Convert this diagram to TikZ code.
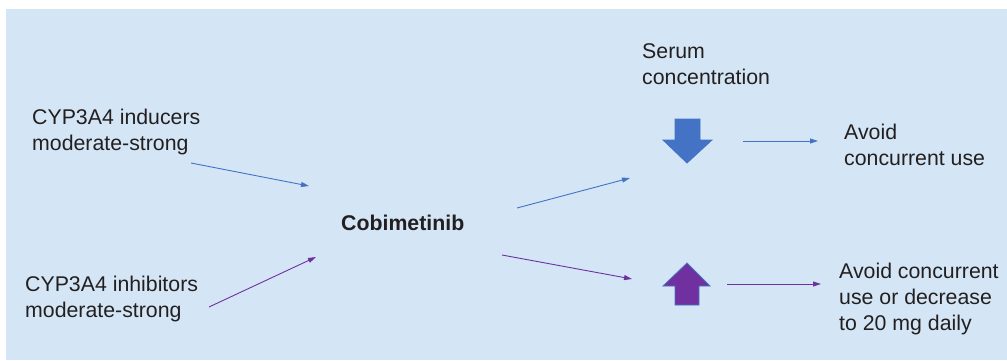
\documentclass[tikz,border=0pt]{standalone}
\usepackage{fontspec}
\setmainfont{Liberation Sans}
\usetikzlibrary{arrows.meta}

\definecolor{bgblue}{RGB}{212,230,245}
\definecolor{arrblue}{RGB}{68,114,196}
\definecolor{arrpurple}{RGB}{112,48,160}
\definecolor{txtgray}{RGB}{35,31,32}

\begin{document}
\begin{tikzpicture}[x=1pt, y=-1pt,
    txt/.style={
        anchor=base west,
        inner sep=0pt,
        align=left,
        text=txtgray,
        font=\fontsize{21.3}{26}\selectfont
    },
    drug/.style={
        txt,
        font=\fontsize{21.3}{26}\selectfont\bfseries
    },
    link/.style={
        line width=0.9pt,
        -{Triangle[length=8pt,width=5pt]}
    },
    bluelink/.style={
        link,
        draw=arrblue
    },
    purplelink/.style={
        link,
        draw=arrpurple
    },
    bigarrow/.style={
        draw=arrblue,
        line width=0.8pt,
        line join=miter
    }
]

%------------------------------------------------
% Fondo
%------------------------------------------------
\useasboundingbox (0,0) rectangle (1007,360);
\fill[bgblue] (6,9) rectangle (1007,360);

%------------------------------------------------
% Textos (base = última línea)
%------------------------------------------------
\node[txt]  (ind)   at (32,150)  {CYP3A4 inducers\\moderate-strong};
\node[txt]  (inh)   at (25,317)  {CYP3A4 inhibitors\\moderate-strong};
\node[drug] (cobi)  at (341,230) {Cobimetinib};
\node[txt]  (serum) at (642,84)  {Serum\\concentration};
\node[txt]  (avoid) at (844,165) {Avoid\\concurrent use};
\node[txt]  (dose)  at (839,330) {Avoid concurrent\\use or decrease\\to 20 mg daily};

%------------------------------------------------
% Flechas gruesas (concentración)
%------------------------------------------------
\def\ax{687}
\filldraw[bigarrow, fill=arrblue]
    (675,119) -- (700,119) -- (700,140) -- (712,140) -- (\ax,163)
    -- (663,140) -- (675,140) -- cycle;
\filldraw[bigarrow, fill=arrpurple]
    (675,305) -- (699,305) -- (699,286) -- (710,286) -- (\ax,263)
    -- (663,286) -- (675,286) -- cycle;

%------------------------------------------------
% Extremos de conectores
%------------------------------------------------
\coordinate (indS)  at (191,163);
\coordinate (indE)  at (309,186);
\coordinate (inhS)  at (209,307);
\coordinate (inhE)  at (316,257);
\coordinate (upS)   at (517,208);
\coordinate (upE)   at (630,178);
\coordinate (dnS)   at (502,255);
\coordinate (dnE)   at (632,279);
\coordinate (lowS)  at (743,141);
\coordinate (lowE)  at (818,141);
\coordinate (highS) at (727,284);
\coordinate (highE) at (821,284);

%------------------------------------------------
% Conectores
%------------------------------------------------
\draw[bluelink]   (indS)  -- (indE);
\draw[purplelink] (inhS)  -- (inhE);
\draw[bluelink]   (upS)   -- (upE);
\draw[purplelink] (dnS)   -- (dnE);
\draw[bluelink]   (lowS)  -- (lowE);
\draw[purplelink] (highS) -- (highE);

\end{tikzpicture}
\end{document}
